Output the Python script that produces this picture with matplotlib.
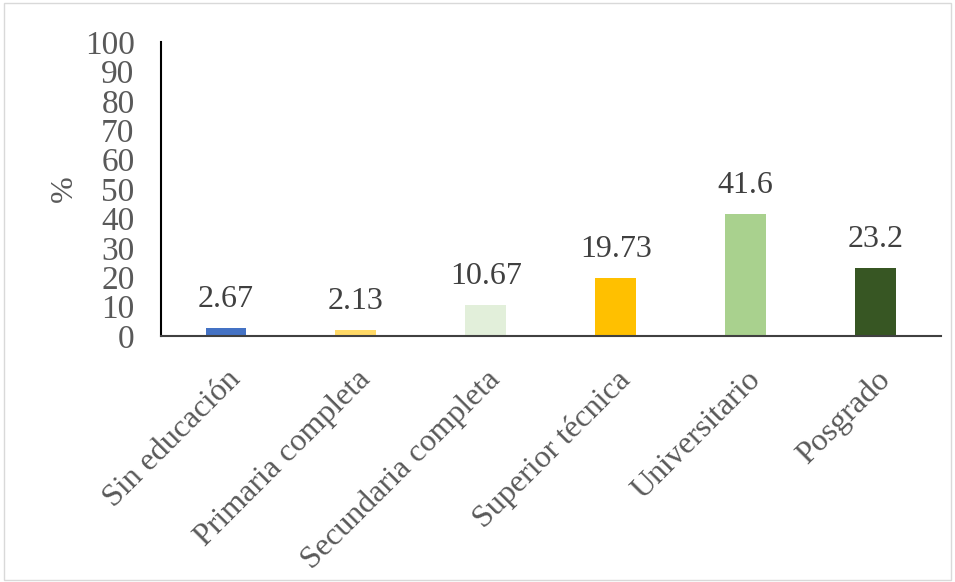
import matplotlib
matplotlib.use("Agg")
import matplotlib.pyplot as plt
from matplotlib.patches import Rectangle

categories = ["Sin educación", "Primaria completa", "Secundaria completa",
              "Superior técnica", "Universitario", "Posgrado"]
values = [2.67, 2.13, 10.67, 19.73, 41.6, 23.2]
value_labels = ["2.67", "2.13", "10.67", "19.73", "41.6", "23.2"]
colors = ["#4472c4", "#ffd966", "#e2efda", "#ffc000", "#a9d18e", "#375623"]

plt.rcParams['font.family'] = ['Liberation Serif', 'DejaVu Serif']

fig = plt.figure(figsize=(9.55, 5.82), dpi=100)
ax = fig.add_axes([0.1686, 0.4227, 0.8164, 0.5051])

x = range(len(categories))
bars = ax.bar(x, values, width=0.315, color=colors)
for xi, v, lab in zip(x, values, value_labels):
    ax.text(xi, v + 4.8, lab, ha='center', va='bottom', fontsize=23, color='#404040')

ax.set_xlim(-0.5, len(categories) - 0.5)
ax.set_ylim(0, 100)
ax.set_yticks(range(0, 101, 10))
ax.tick_params(axis='y', length=0, labelsize=24, labelcolor='#595959', pad=19)
ax.tick_params(axis='x', length=0, pad=21)
ax.set_xticks(list(x))
ax.set_xticklabels(categories, rotation=45, ha='right', rotation_mode='anchor',
                   fontsize=23, color='#595959')
ax.set_ylabel('%', fontsize=23, color='#595959', labelpad=4)

for s in ['top', 'right']:
    ax.spines[s].set_visible(False)
ax.spines['left'].set_linewidth(1.5)
ax.spines['bottom'].set_linewidth(1.5)
ax.spines['bottom'].set_color('#404040')

fig.patches.append(Rectangle((0.004, 0.004), 0.992, 0.99, transform=fig.transFigure,
                             fill=False, edgecolor='#d9d9d9', linewidth=1))

fig.savefig('out.png', dpi=100)
